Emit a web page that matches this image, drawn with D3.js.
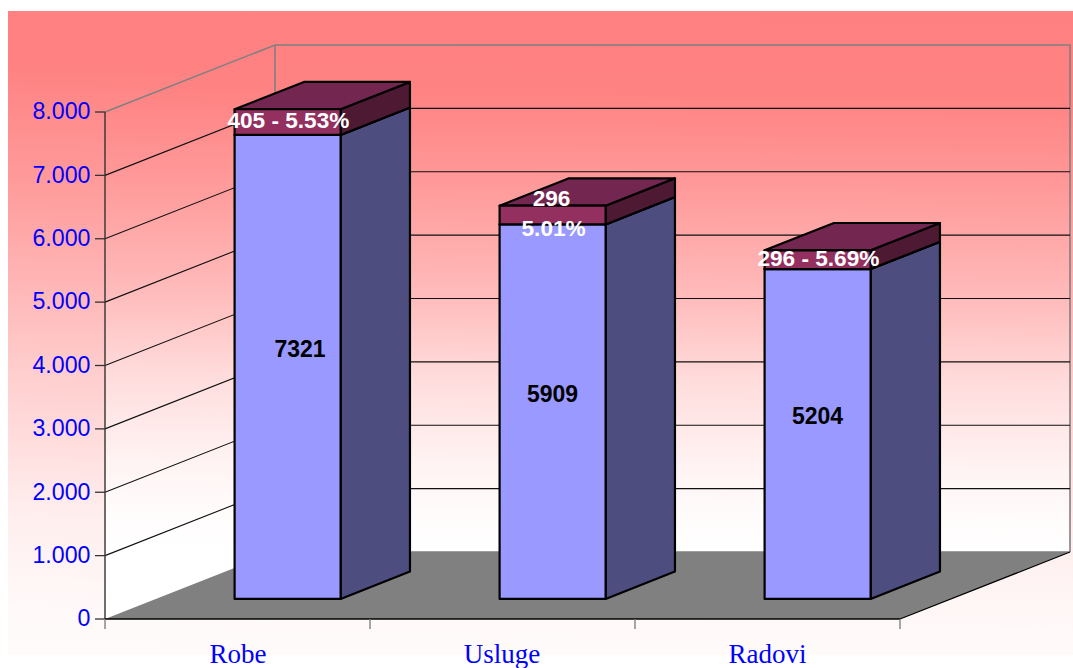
<!DOCTYPE html>
<html><head><meta charset="utf-8">
<style>html,body{margin:0;padding:0;background:#fff}svg{display:block}</style>
<script src="https://cdn.jsdelivr.net/npm/d3@7"></script></head>
<body><svg id="c" width="1073" height="668"></svg>
<script>
const categories = ["Robe", "Usluge", "Radovi"];
const lowerValues = [7321, 5909, 5204];
const upperValues = [405, 296, 296];
const lowerLabels = ["7321", "5909", "5204"];
const upperLabels = [["405 - 5.53%"], ["296", "5.01%"], ["296 - 5.69%"]];
const yTicks = [0, 1000, 2000, 3000, 4000, 5000, 6000, 7000, 8000];
const tickLabels = ["0", "1.000", "2.000", "3.000", "4.000", "5.000", "6.000", "7.000", "8.000"];

const svg = d3.select("#c");
const W = 1073, H = 668;
const x = d3.scaleBand().domain(categories).range([105, 900]);
const y = d3.scaleLinear().domain([0, 8000]).range([619, 112]);
const DX = 170, DY = -67;
const P = (px, v, d) => [px + DX * d, y(v) + DY * d];
const poly = pts => pts.map(p => p.join(",")).join(" ");

const defs = svg.append("defs");
const bg = defs.append("linearGradient").attr("id", "bg")
  .attr("gradientUnits", "userSpaceOnUse")
  .attr("x1", 550).attr("y1", 11).attr("x2", 535).attr("y2", 655);
[[0, "#ff8080"], [0.1, "#ff8181"], [0.3, "#ff9d9d"], [0.57, "#ffcccc"], [0.8, "#ffeeee"], [0.95, "#fff9f9"], [1, "#fffbfb"]]
  .forEach(s => bg.append("stop").attr("offset", s[0]).attr("stop-color", s[1]));
const wall = defs.append("linearGradient").attr("id", "wall")
  .attr("gradientUnits", "userSpaceOnUse")
  .attr("x1", 590).attr("y1", 45).attr("x2", 585).attr("y2", 552);
[[0, "#ff8080"], [0.1, "#ff8383"], [0.3, "#ff9d9d"], [0.5, "#ffbcbc"], [0.66, "#ffdcdc"], [0.82, "#fff2f2"], [0.92, "#fffbfb"], [1, "#ffffff"]]
  .forEach(s => wall.append("stop").attr("offset", s[0]).attr("stop-color", s[1]));

svg.append("rect").attr("x", 8).attr("y", 11).attr("width", W - 8).attr("height", H - 11 - 13).attr("fill", "url(#bg)");

// walls
svg.append("polygon").attr("fill", "url(#wall)")
  .attr("points", poly([P(105, 0, 0), P(105, 0, 1), P(900, 0, 1), P(900, 8000, 1), P(105, 8000, 1), P(105, 8000, 0)]));
// floor
svg.append("polygon").attr("fill", "#808080")
  .attr("points", poly([P(105, 0, 0), P(900, 0, 0), P(900, 0, 1), P(105, 0, 1)]));

// wall frame
const gray = "#808080";
svg.append("polyline").attr("fill", "none").attr("stroke", gray).attr("stroke-width", 1.6)
  .attr("points", poly([P(105, 8000, 0), P(105, 8000, 1), P(900, 8000, 1), P(900, 0, 1)]));
svg.append("line").attr("stroke", gray).attr("stroke-width", 1.6)
  .attr("x1", P(105, 0, 1)[0]).attr("y1", P(105, 8000, 1)[1]).attr("x2", P(105, 0, 1)[0]).attr("y2", P(105, 0, 1)[1]);
svg.append("line").attr("stroke", gray).attr("stroke-width", 1.6)
  .attr("x1", P(105, 0, 1)[0]).attr("y1", P(105, 0, 1)[1]).attr("x2", P(900, 0, 1)[0]).attr("y2", P(900, 0, 1)[1]);

// grid
yTicks.filter(t => t > 0 && t < 8000).forEach(t => {
  svg.append("polyline").attr("fill", "none").attr("stroke", "#111").attr("stroke-width", 1.1)
    .attr("points", poly([P(105, t, 0), P(105, t, 1), P(900, t, 1)]));
});

// axes
svg.append("line").attr("x1", 105).attr("x2", 105).attr("y1", y(8000)).attr("y2", y(0)).attr("stroke", "#333").attr("stroke-width", 1.4);
svg.append("line").attr("x1", 105).attr("x2", 900).attr("y1", y(0)).attr("y2", y(0)).attr("stroke", "#000").attr("stroke-width", 1.4);
svg.append("polyline").attr("fill", "none").attr("stroke", "#000").attr("stroke-width", 1.2)
  .attr("points", poly([P(900, 0, 0), P(900, 0, 1)]));
yTicks.forEach((t, i) => {
  svg.append("line").attr("x1", 95).attr("x2", 105).attr("y1", y(t)).attr("y2", y(t)).attr("stroke", "#333").attr("stroke-width", 1.3);
  svg.append("text").attr("x", 90.5).attr("y", y(t) - 1).attr("dy", "0.36em").attr("text-anchor", "end")
    .attr("font-family", "Liberation Sans").attr("font-size", 23.2).attr("fill", "#0000ff").text(tickLabels[i]);
});
const xEdges = [...categories.map(c => x(c)), 900];
xEdges.forEach(e => svg.append("line").attr("x1", e).attr("x2", e).attr("y1", 619).attr("y2", 629).attr("stroke", gray).attr("stroke-width", 1.4));
const categoryNudge = [0.5, -0.5, 0];
categories.forEach((c, i) => svg.append("text").attr("x", x(c) + x.bandwidth() / 2 + categoryNudge[i]).attr("y", 663).attr("text-anchor", "middle")
  .attr("font-family", "Liberation Serif").attr("font-size", 27).attr("fill", "#0000ff").text(c));

// bars
const barW = 0.4 * x.bandwidth();
const d0 = 0.3, d1 = 0.708;
function box(left, v0, v1, front, side, top) {
  const right = left + barW;
  const st = sel => sel.attr("stroke", "#000").attr("stroke-width", 2.2).attr("stroke-linejoin", "round");
  st(svg.append("polygon")).attr("fill", side).attr("points", poly([P(right, v0, d0), P(right, v0, d1), P(right, v1, d1), P(right, v1, d0)]));
  st(svg.append("polygon")).attr("fill", top).attr("points", poly([P(left, v1, d0), P(right, v1, d0), P(right, v1, d1), P(left, v1, d1)]));
  st(svg.append("polygon")).attr("fill", front).attr("points", poly([P(left, v0, d0), P(right, v0, d0), P(right, v1, d0), P(left, v1, d0)]));
}
const leftOf = c => x(c) + (x.bandwidth() - barW) / 2 - 0.9;
categories.forEach((c, i) => {
  box(leftOf(c), 0, lowerValues[i], "#9999ff", "#4d4d80", "#9999ff");
  box(leftOf(c), lowerValues[i], lowerValues[i] + upperValues[i], "#933060", "#4d1933", "#732650");
});
const lowerNudgeX = [12.5, 0, 0];
categories.forEach((c, i) => {
  const cx = P(leftOf(c) + barW / 2, 0, d0)[0];
  const midY = P(0, lowerValues[i] / 2, 0.5)[1] - 5;
  svg.append("text").attr("x", cx + lowerNudgeX[i]).attr("y", midY).attr("dy", "0.36em").attr("text-anchor", "middle")
    .attr("font-family", "Liberation Sans").attr("font-weight", "bold").attr("font-size", 23).attr("fill", "#000").text(lowerLabels[i]);
  const uMid = P(0, lowerValues[i] + upperValues[i] / 2, d0)[1];
  const L = upperLabels[i];
  L.forEach((s, j) => {
    svg.append("text").attr("x", cx + (L.length > 1 ? (j ? 1 : -1) : 0.8)).attr("y", uMid - 2 + (j - (L.length - 1) / 2) * 30).attr("dy", "0.36em").attr("text-anchor", "middle")
      .attr("font-family", "Liberation Sans").attr("font-weight", "bold").attr("font-size", 22.6).attr("fill", "#fff").text(s);
  });
});
</script></body></html>
